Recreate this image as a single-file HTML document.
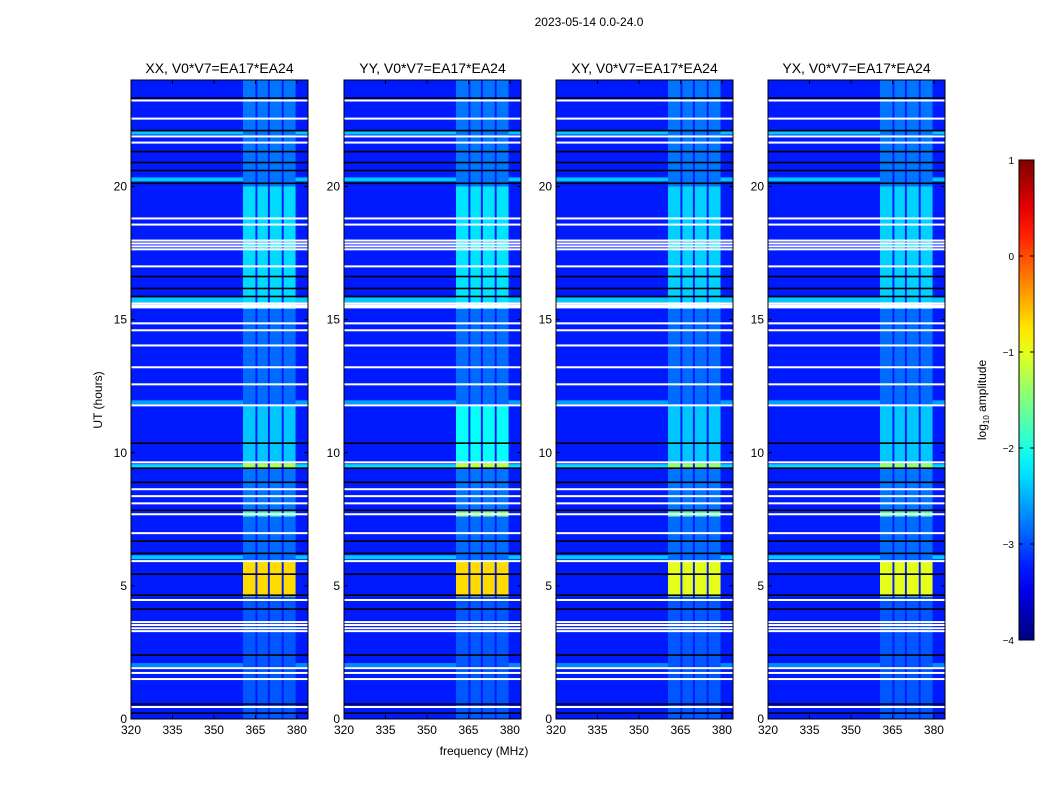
<!DOCTYPE html>
<html><head><meta charset="utf-8">
<style>
body{margin:0;background:#fff;width:1050px;height:800px;overflow:hidden;font-family:"Liberation Sans",sans-serif}
svg text{font-family:"Liberation Sans",sans-serif;fill:#000}
</style></head>
<body>
<svg id="fig" width="1050" height="800" xmlns="http://www.w3.org/2000/svg">
<text x="589" y="26" font-size="12" text-anchor="middle">2023-05-14 0.0-24.0</text>
<text x="484" y="755" font-size="12" text-anchor="middle">frequency (MHz)</text>
<text transform="translate(102,400) rotate(-90)" font-size="12" text-anchor="middle">UT (hours)</text>
</svg>
<script>
// ---- data ----
const panelTitles = ["XX, V0*V7=EA17*EA24","YY, V0*V7=EA17*EA24","XY, V0*V7=EA17*EA24","YX, V0*V7=EA17*EA24"];
const xTicks = [320,335,350,365,380];
const yTicks = [0,5,10,15,20];
const cbTicks = [-4,-3,-2,-1,0,1];
const backgroundLevel = -3.25;
const subBands = [[360.5,365.0],[365.7,369.5],[370.2,374.5],[375.2,379.5]];
const activityStart = [0,4.6,5.9,7.6,7.8,9.4,9.6,11.8,15.4,20.0];
const activityEnd   = [4.6,5.9,7.6,7.8,9.4,9.6,11.8,15.4,20.0,24.0];
const activityXX = [-2.95,-0.7,-2.85,-1.8,-2.8,-1.3,-2.4,-2.85,-2.3,-2.8];
const activityYY = [-2.95,-0.7,-2.85,-1.5,-2.8,-1.2,-2.1,-2.85,-2.25,-2.8];
const activityXY = [-2.95,-1.0,-2.85,-1.7,-2.8,-1.4,-2.4,-2.85,-2.35,-2.8];
const activityYX = [-2.95,-1.0,-2.85,-1.7,-2.8,-1.4,-2.4,-2.85,-2.35,-2.8];
const cyanStart = [21.95,20.19,15.65,11.82,9.42,6.0,1.95];
const cyanEnd   = [22.07,20.34,15.83,11.97,9.57,6.15,2.1];
const cyanLevel = [-2.4,-2.4,-2.4,-2.6,-2.3,-2.4,-2.7];
const whiteLines = [23.23,22.55,21.88,21.65,18.80,18.57,17.97,17.86,17.75,17.64,17.0,15.61,15.53,15.46,14.86,14.60,14.03,13.21,12.57,11.78,9.64,8.63,8.37,8.10,7.69,6.98,5.93,4.47,3.64,3.53,3.41,3.30,1.91,1.73,1.50,0.45];
const blackLines = [23.32,22.10,21.31,20.90,20.60,20.12,16.62,16.17,15.87,10.36,9.42,8.89,7.84,6.68,6.22,5.44,4.65,4.13,2.40,0.56,0.22];
// ---- layout ----
const panelLeft=[131,344,556,768], PW=177, PT=80, PB=719;
const fMin=320,fMax=384,tMin=0,tMax=24;
const NS="http://www.w3.org/2000/svg";
const svg=document.getElementById('fig');
function jet(v){let f=(v+4)/5;f=Math.max(0,Math.min(1,f));
 const c=x=>Math.round(255*Math.max(0,Math.min(1,x)));
 const r=1.5-Math.abs(4*f-3),g=1.5-Math.abs(4*f-2),b=1.5-Math.abs(4*f-1);
 return `rgb(${c(r)},${c(g)},${c(b)})`;}
function mk(tag,attrs,parent){const e=document.createElementNS(NS,tag);for(const k in attrs)e.setAttribute(k,attrs[k]);(parent||svg).appendChild(e);return e;}
const activities=[activityXX,activityYY,activityXY,activityYX];
panelLeft.forEach((L,p)=>{
 const xs=f=>L+(f-fMin)/(fMax-fMin)*PW;
 const ys=t=>PB-(t-tMin)/(tMax-tMin)*(PB-PT);
 const g=mk('g',{});
 
 
 const bg=mk('rect',{x:L,y:PT,width:PW,height:PB-PT,fill:jet(backgroundLevel)},g);
 
 
 const act=activities[p];
 for(let i=0;i<act.length;i++){
  subBands.forEach(b=>{
   const r=mk('rect',{x:xs(b[0]),y:ys(activityEnd[i]),width:xs(b[1])-xs(b[0]),height:ys(activityStart[i])-ys(activityEnd[i]),fill:jet(act[i])},g);
   
   
  });
 }
 for(let i=0;i<cyanStart.length;i++){
  const r=mk('rect',{x:L,y:ys(cyanEnd[i]),width:xs(subBands[0][0])-L,height:ys(cyanStart[i])-ys(cyanEnd[i]),fill:jet(cyanLevel[i])},g);
  
  
  const r2=mk('rect',{x:xs(subBands[3][1]),y:ys(cyanEnd[i]),width:L+PW-xs(subBands[3][1]),height:ys(cyanStart[i])-ys(cyanEnd[i]),fill:jet(cyanLevel[i])},g);
  
  
 }
 whiteLines.forEach(t=>{const r=mk('rect',{x:L,y:ys(t)-1,width:PW,height:2,fill:'#fff'},g);
  
  });
 blackLines.forEach(t=>{const r=mk('rect',{x:L,y:ys(t)-0.8,width:PW,height:1.6,fill:'#000'},g);
  
  });
 const fr=mk('rect',{x:L,y:PT,width:PW,height:PB-PT,fill:'none',stroke:'#000','stroke-width':1},g);
 
 
 const tt=mk('text',{x:L+PW/2,y:73,'font-size':14,'text-anchor':'middle'},g);
 tt.textContent=panelTitles[p];
 
 
 xTicks.forEach(f=>{const x=xs(f);
  mk('line',{x1:x,x2:x,y1:PB,y2:PB-4,stroke:'#000'},g);
  mk('line',{x1:x,x2:x,y1:PT,y2:PT+4,stroke:'#000'},g);
  const t=mk('text',{x:x,y:PB+15,'font-size':12,'text-anchor':'middle'},g);t.textContent=f;
  
  });
 yTicks.forEach(v=>{const y=ys(v);
  mk('line',{x1:L,x2:L+4,y1:y,y2:y,stroke:'#000'},g);
  mk('line',{x1:L+PW,x2:L+PW-4,y1:y,y2:y,stroke:'#000'},g);
  const t=mk('text',{x:L-4,y:y+4,'font-size':12,'text-anchor':'end'},g);t.textContent=v;
  
  });
});
// colorbar
const CX=1019,CW=15,CT=160,CB=640,cMin=-4,cMax=1;
const cys=v=>CB-(v-cMin)/(cMax-cMin)*(CB-CT);
const defs=mk('defs',{});
const lg=mk('linearGradient',{id:'jetg',x1:0,y1:1,x2:0,y2:0},defs);
for(let i=0;i<=20;i++){mk('stop',{offset:i/20,'stop-color':jet(cMin+i/20*(cMax-cMin))},lg);}
const cb=mk('rect',{x:CX,y:CT,width:CW,height:CB-CT,fill:'url(#jetg)',stroke:'#000','stroke-width':1});


cbTicks.forEach(v=>{const y=cys(v);
 mk('line',{x1:CX,x2:CX+4,y1:y,y2:y,stroke:'#000'});
 mk('line',{x1:CX+CW,x2:CX+CW-4,y1:y,y2:y,stroke:'#000'});
 const t=mk('text',{x:CX-5,y:y+4,'font-size':10,'text-anchor':'end'});
 t.textContent=(v<0?'\u2212'+(-v):v);
 
 });
const cl=mk('text',{transform:'translate(986,400) rotate(-90)','font-size':12,'text-anchor':'middle'});
cl.innerHTML='log<tspan font-size="8" dy="3">10</tspan><tspan dy="-3"> amplitude</tspan>';


</script>
</body></html>
